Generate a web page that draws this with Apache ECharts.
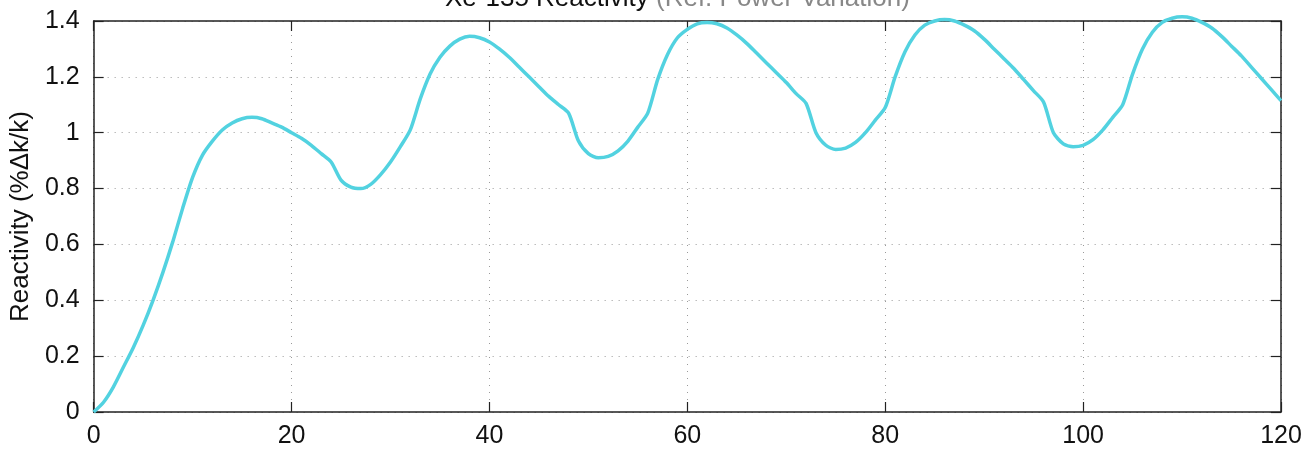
<!DOCTYPE html>
<html>
<head>
<meta charset="utf-8">
<script src="https://cdn.jsdelivr.net/npm/echarts@6/dist/echarts.min.js"></script>
<style>html,body{margin:0;padding:0;background:#fff}#c{width:1314px;height:456px}</style>
</head>
<body>
<div id="c"></div>
<script>
const titleMain = 'Xe-135 Reactivity ';
const titleSub = '(Ref. Power Variation)';
const yAxisName = 'Reactivity (%\u0394k/k)';
const xTicks = [0, 20, 40, 60, 80, 100, 120];
const yTicks = [0, 0.2, 0.4, 0.6, 0.8, 1, 1.2, 1.4];
const hours = [];
for (let h = 0; h <= 120; h++) hours.push(h);
const reactivity = [
  0, 0.035, 0.09, 0.16, 0.23, 0.31, 0.40, 0.50, 0.61, 0.73,
  0.84, 0.92, 0.97, 1.01, 1.035, 1.05, 1.055, 1.05, 1.035, 1.02,
  1.0, 0.98, 0.955, 0.925, 0.895, 0.83, 0.805, 0.80, 0.815, 0.85,
  0.895, 0.95, 1.01, 1.12, 1.21, 1.27, 1.31, 1.335, 1.345, 1.34,
  1.325, 1.30, 1.27, 1.235, 1.20, 1.165, 1.13, 1.10, 1.07, 0.97,
  0.925, 0.91, 0.915, 0.935, 0.97, 1.02, 1.07, 1.19, 1.28, 1.34,
  1.37, 1.39, 1.395, 1.39, 1.375, 1.35, 1.32, 1.285, 1.25, 1.215,
  1.18, 1.14, 1.105, 1.00, 0.955, 0.94, 0.945, 0.965, 1.00, 1.045,
  1.09, 1.20, 1.29, 1.35, 1.385, 1.40, 1.405, 1.40, 1.385, 1.365,
  1.335, 1.30, 1.265, 1.23, 1.19, 1.15, 1.11, 1.00, 0.96, 0.95,
  0.955, 0.975, 1.01, 1.055, 1.10, 1.21, 1.30, 1.36, 1.395, 1.41,
  1.415, 1.41, 1.395, 1.375, 1.345, 1.31, 1.275, 1.235, 1.195, 1.155,
  1.115
];

const FONT = 'Liberation Sans, Arial, Helvetica, sans-serif';
const chart = echarts.init(document.getElementById('c'), null, {renderer: 'canvas'});
const dotted = {show: true, lineStyle: {color: '#9a9a9a', type: [1, 6], width: 1}};
const axisLine = {show: true, onZero: false, lineStyle: {color: '#222', width: 1.5}};
const tickIn = {show: true, inside: true, length: 10, lineStyle: {color: '#222', width: 1.2}};
chart.setOption({
  animation: false,
  backgroundColor: '#fff',
  title: {
    text: '{a|' + titleMain + '}{b|' + titleSub + '}',
    left: 440, top: -19,
    textStyle: {
      rich: {
        a: {fontFamily: FONT, fontSize: 26, fontWeight: 'normal', color: '#111'},
        b: {fontFamily: FONT, fontSize: 26, fontWeight: 'normal', color: '#888'}
      }
    }
  },
  grid: {left: 91, right: 33, top: 21, bottom: 44},
  xAxis: [{
    type: 'value', min: xTicks[0], max: xTicks[xTicks.length - 1], interval: 20,
    axisLine: axisLine, axisTick: tickIn, splitLine: dotted,
    axisLabel: {fontFamily: FONT, fontSize: 25, color: '#111', margin: 12,
      formatter: v => xTicks.includes(v) ? String(v) : ''}
  }, {
    type: 'value', position: 'top', min: 0, max: 120, interval: 20,
    axisLine: axisLine, axisTick: tickIn, splitLine: {show: false}, axisLabel: {show: false}
  }],
  yAxis: [{
    type: 'value', min: yTicks[0], max: yTicks[yTicks.length - 1], interval: 0.2,
    axisLine: axisLine, axisTick: tickIn, splitLine: dotted,
    name: yAxisName, nameLocation: 'middle', nameGap: 58, nameRotate: 90,
    nameTextStyle: {fontFamily: FONT, fontSize: 26, color: '#111'},
    axisLabel: {fontFamily: FONT, fontSize: 25, color: '#111', margin: 14,
      formatter: v => { const r = Math.round(v * 10) / 10; return String(r); }}
  }, {
    type: 'value', position: 'right', min: 0, max: 1.4, interval: 0.2,
    axisLine: axisLine, axisTick: tickIn, splitLine: {show: false}, axisLabel: {show: false}
  }],
  series: [{
    type: 'line',
    data: hours.map((h, i) => [h, reactivity[i]]),
    showSymbol: false,
    smooth: 0.25,
    lineStyle: {color: '#52d2e0', width: 3.5},
    clip: false
  }]
});
</script>
</body>
</html>
